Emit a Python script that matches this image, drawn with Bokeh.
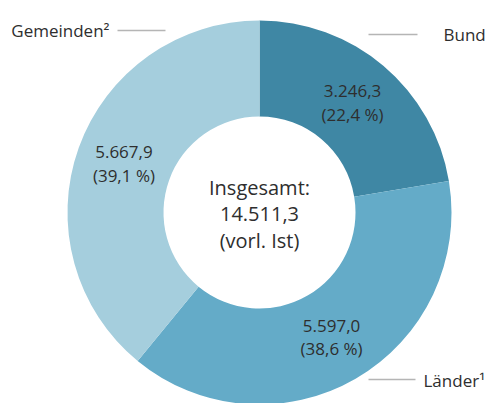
import math
from bokeh.plotting import figure
from bokeh.models import Range1d, ColumnDataSource
from bokeh.core.properties import value
from bokeh.embed import file_html
from bokeh.resources import INLINE

# ---- data ----
categories = ["Bund", "Länder¹", "Gemeinden²"]
values = [3246.3, 5597.0, 5667.9]
value_labels = ["3.246,3", "5.597,0", "5.667,9"]
pct_labels = ["(22,4 %)", "(38,6 %)", "(39,1 %)"]
colors = ["#3f87a4", "#64abc8", "#a5cedd"]
center_lines = ["Insgesamt:", "14.511,3", "(vorl. Ist)"]

FONT = "Open Sans"
TXT = "#2e2e2e"
W, H = 485, 403

# data coords: x = screen x, y = 403 - screen y
def sy(y):
    return 403 - y

p = figure(width=W, height=H, output_backend="svg", toolbar_location=None,
           x_range=Range1d(0, W), y_range=Range1d(0, H),
           min_border=0)
p.axis.visible = False
p.grid.visible = False
p.outline_line_color = None
p.background_fill_color = "white"

cx, cy = 259, sy(212)
r_in, r_out = 96, 192

total = sum(values)
starts, ends, mids = [], [], []
cum = 0.0
for v in values:
    a0 = math.pi / 2 - 2 * math.pi * cum / total
    cum += v
    a1 = math.pi / 2 - 2 * math.pi * cum / total
    starts.append(a0)
    ends.append(a1)
    mids.append((a0 + a1) / 2)

src = ColumnDataSource(dict(start=starts, end=ends, color=colors))
p.annular_wedge(x=cx, y=cy, inner_radius=r_in, outer_radius=r_out,
                start_angle="start", end_angle="end", direction="clock",
                fill_color="color", line_color=None, source=src)

r_mid = (r_in + r_out) / 2
lx = [cx + r_mid * math.cos(a) for a in mids]
ly = [cy + r_mid * math.sin(a) for a in mids]
p.text(x=lx, y=ly, text=value_labels, text_font=value(FONT), text_font_size="17px",
       text_color=TXT, text_align="center", text_baseline="middle", y_offset=-11.5)
p.text(x=lx, y=ly, text=pct_labels, text_font=value(FONT), text_font_size="17px",
       text_color=TXT, text_align="center", text_baseline="middle", y_offset=11.5)

for i, line in enumerate(center_lines):
    p.text(x=[cx], y=[cy], text=[line], text_font=value(FONT), text_font_size="20px",
           text_color=TXT, text_align="center", text_baseline="middle",
           y_offset=(i - 1) * 26.5 + 1)

# outer category labels with leader lines
p.segment(x0=[368], y0=[sy(34)], x1=[417], y1=[sy(34)], line_color="#b5b5b5", line_width=1.3)
p.text(x=[443], y=[sy(34)], text=[categories[0]], text_font=value(FONT), text_font_size="17px",
       text_color=TXT, text_align="left", text_baseline="middle")
p.segment(x0=[368], y0=[sy(379)], x1=[415], y1=[sy(379)], line_color="#b5b5b5", line_width=1.3)
p.text(x=[423], y=[sy(380)], text=[categories[1]], text_font=value(FONT), text_font_size="17px",
       text_color=TXT, text_align="left", text_baseline="middle")
p.segment(x0=[117], y0=[sy(30)], x1=[165], y1=[sy(30)], line_color="#b5b5b5", line_width=1.3)
p.text(x=[109], y=[sy(30)], text=[categories[2]], text_font=value(FONT), text_font_size="17px",
       text_color=TXT, text_align="right", text_baseline="middle")

open("out.html", "w").write(file_html(p, INLINE))
